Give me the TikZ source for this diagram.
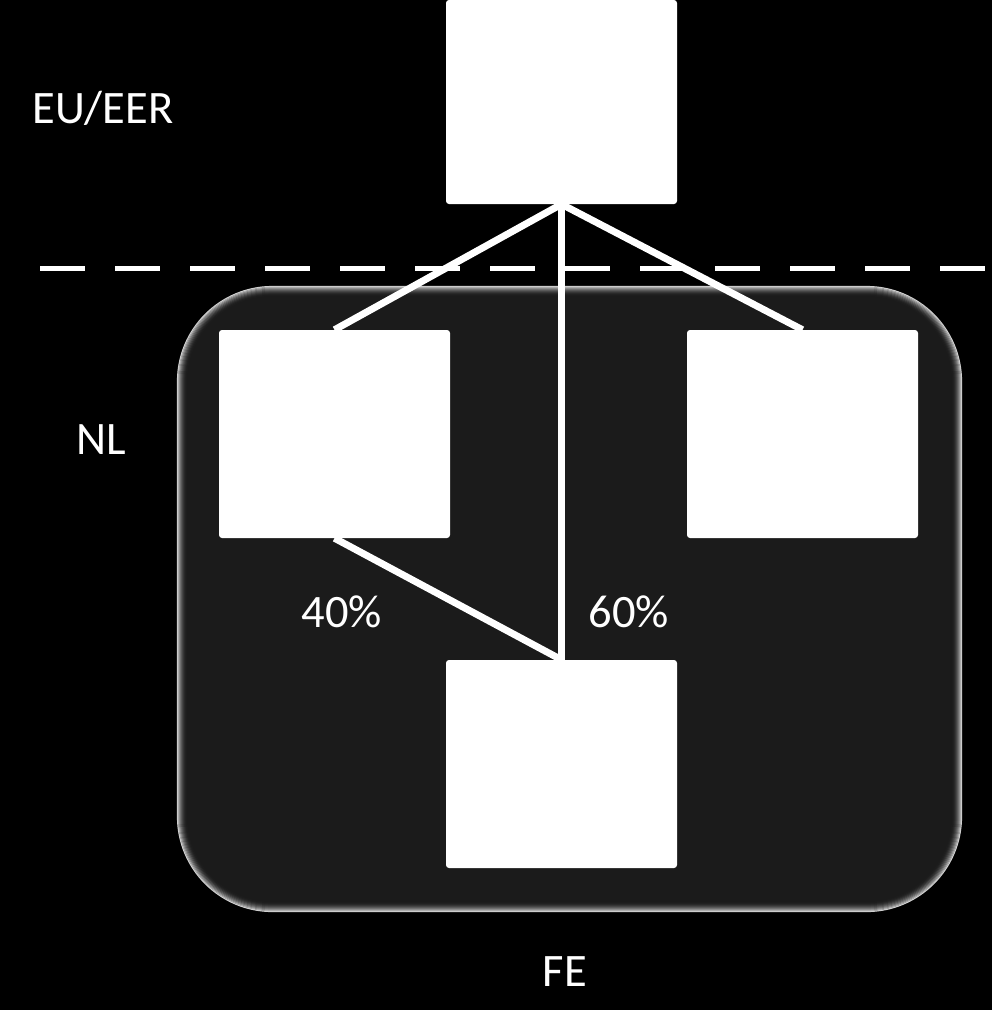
\documentclass[tikz,border=0pt]{standalone}
\usepackage{fontspec}
\setmainfont{Carlito}
\begin{document}
\begin{tikzpicture}[x=1pt,y=-1pt,
  box/.style={fill=white,draw=none,rounded corners=3pt,minimum width=231pt,minimum height=208pt,inner sep=0pt},
  conn/.style={draw=white,line width=7pt},
  lbl/.style={text=white,font=\fontsize{46.5}{54}\selectfont,inner sep=0pt}]
\definecolor{panel}{RGB}{27,27,27}
\fill[black] (0,0) rectangle (992,1010);
\useasboundingbox (0,0) rectangle (992,1010);
% panel
\fill[panel,rounded corners=95pt] (177,286) rectangle (962,912);
\foreach \k [evaluate=\k as \p using {80*(1-\k/10)^2}] in {0,...,9}{
  \draw[white!\p!panel,line width=1.2pt,rounded corners={95-\k}]
    (177.5+\k,286.5+\k) rectangle (961.5-\k,911.5-\k);
}
% dashed line
\coordinate (dl) at (40,268);
\coordinate (dr) at (992,268);
\draw[white,line width=5pt,dash pattern=on 45pt off 30pt] (dl) -- (dr);
% boxes
\node[box,minimum height=204pt] (top) at (561.5,102) {};
\node[box] (left) at (334.5,434) {};
\node[box] (right) at (802.5,434) {};
\node[box] (bot) at (561.5,764) {};
% connectors
\coordinate (t) at (top.south);
\draw[conn] (t) -- (left.north);
\draw[conn] (t) -- (right.north);
\draw[conn] (t) -- (t |- bot.north);
\draw[conn] (left.south) -- (t |- bot.north);
% labels
\node[lbl] (eu) at (103,108) {EU/EER};
\node[lbl] (nl) at (101,440) {NL};
\node[lbl] (p40) at (342,612) {40\%};
\node[lbl] (p60) at (629,612) {60\%};
\node[lbl] (fe) at (565,972) {FE};
\end{tikzpicture}
\end{document}
